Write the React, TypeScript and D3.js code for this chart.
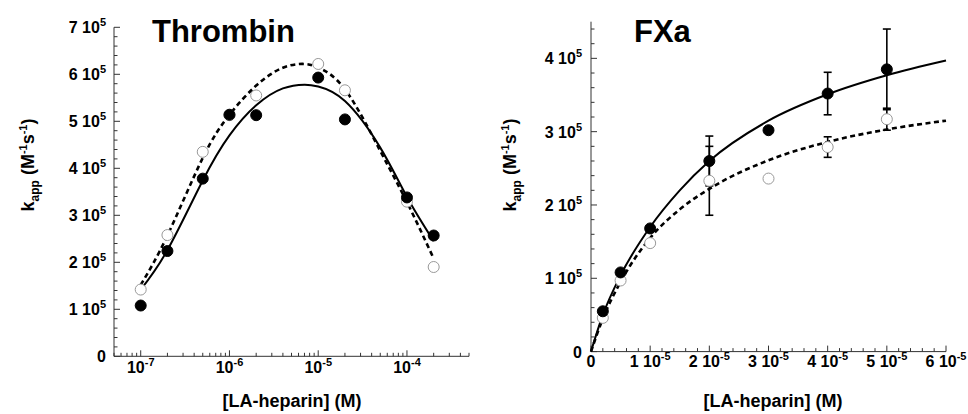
import React from 'react';
import * as d3 from 'd3';

// Thrombin panel (log x)
const thrombinX = [1e-7, 2e-7, 5e-7, 1e-6, 2e-6, 1e-5, 2e-5, 1e-4, 2e-4];
const thrombinFilled = [1.08e5, 2.24e5, 3.78e5, 5.14e5, 5.13e5, 5.93e5, 5.04e5, 3.38e5, 2.57e5];
const thrombinOpen = [1.42e5, 2.58e5, 4.35e5, 5.13e5, 5.55e5, 6.22e5, 5.66e5, 3.29e5, 1.9e5];
const thrombinFitX = [1e-7, 2e-7, 5e-7, 1e-6, 2e-6, 4e-6, 7e-6, 1e-5, 2e-5, 5e-5, 1e-4, 2e-4];
const thrombinFitSolid = [1.42e5, 2.26e5, 3.74e5, 4.7e5, 5.34e5, 5.7e5, 5.78e5, 5.74e5, 5.43e5, 4.44e5, 3.39e5, 2.45e5];
const thrombinFitDashed = [1.52e5, 2.57e5, 4.22e5, 5.14e5, 5.76e5, 6.14e5, 6.22e5, 6.14e5, 5.68e5, 4.37e5, 3.28e5, 2.08e5];
const thrombinXTicks = [1e-7, 1e-6, 1e-5, 1e-4];
const thrombinYTicks = [0, 1e5, 2e5, 3e5, 4e5, 5e5, 6e5, 7e5];

// FXa panel (linear x)
const fxaX = [2e-6, 5e-6, 1e-5, 2e-5, 3e-5, 4e-5, 5e-5];
const fxaFilled = [0.55e5, 1.08e5, 1.68e5, 2.6e5, 3.02e5, 3.52e5, 3.85e5];
const fxaOpen = [0.46e5, 0.97e5, 1.48e5, 2.33e5, 2.36e5, 2.79e5, 3.17e5];
const fxaFilledErr = [0, 0, 0, 0.34e5, 0, 0.29e5, 0.55e5];
const fxaOpenErr = [0, 0, 0, 0.47e5, 0, 0.14e5, 0.15e5];
const fxaFitX = [0, 2e-6, 5e-6, 1e-5, 1.5e-5, 2e-5, 3e-5, 4e-5, 5e-5, 6e-5];
const fxaFitSolid = [0, 0.5e5, 1.04e5, 1.7e5, 2.2e5, 2.6e5, 3.15e5, 3.51e5, 3.77e5, 3.97e5];
const fxaFitDashed = [0, 0.45e5, 0.95e5, 1.55e5, 1.94e5, 2.22e5, 2.61e5, 2.86e5, 3.03e5, 3.15e5];
const fxaXTicks = [0, 1e-5, 2e-5, 3e-5, 4e-5, 5e-5, 6e-5];
const fxaYTicks = [0, 1e5, 2e5, 3e5, 4e5];

const FONT = '"Liberation Sans", Arial, Helvetica, sans-serif';
const AXIS = '#333';

// "7 10^5" style label
const SciLabel = ({ mant, exp, x, y, anchor }) => {
  if (mant === '0') {
    return <text x={x} y={y} textAnchor={anchor} fontSize={16} fontWeight="bold">0</text>;
  }
  return (
    <text x={x} y={y} textAnchor={anchor} fontSize={16} fontWeight="bold">
      {mant ? `${mant} 10` : '10'}
      <tspan fontSize={11} dy={-7}>{exp}</tspan>
    </text>
  );
};

const YTitle = ({ x, y }) => (
  <text transform={`translate(${x},${y}) rotate(-90)`} textAnchor="middle" fontSize={18} fontWeight="bold">
    k<tspan fontSize={12} dy={5}>app</tspan>
    <tspan dy={-5}> (M</tspan>
    <tspan fontSize={11} dy={-7}>-1</tspan>
    <tspan dy={7}>s</tspan>
    <tspan fontSize={11} dy={-7}>-1</tspan>
    <tspan dy={7}>)</tspan>
  </text>
);

const Markers = ({ xs, ys, xScale, yScale, filled }) => (
  <g>
    {xs.map((v, i) => (
      <circle key={i} cx={xScale(v)} cy={yScale(ys[i])} r={5.5}
        fill={filled ? '#000' : '#fff'} stroke={filled ? '#000' : '#999'} strokeWidth={1} />
    ))}
  </g>
);

const ErrorBars = ({ xs, ys, errs, xScale, yScale }) => (
  <g stroke="#000" strokeWidth={1.6}>
    {xs.map((v, i) => {
      if (!errs[i]) return null;
      const cx = xScale(v);
      const top = yScale(ys[i] + errs[i]);
      const bot = yScale(ys[i] - errs[i]);
      return (
        <g key={i}>
          <line x1={cx} x2={cx} y1={top} y2={bot} />
          <line x1={cx - 4} x2={cx + 4} y1={top} y2={top} />
          <line x1={cx - 4} x2={cx + 4} y1={bot} y2={bot} />
        </g>
      );
    })}
  </g>
);

const Thrombin = () => {
  const x = d3.scaleLog().domain([5e-8, 5e-4]).range([114, 469]);
  const y = d3.scaleLinear().domain([0, 7e5]).range([356.3, 27.3]);
  const isMajor = t => Math.abs(Math.log10(t) - Math.round(Math.log10(t))) < 1e-6;
  const line = (vals) => d3.line().x((d, i) => x(thrombinFitX[i])).y(d => y(d)).curve(d3.curveNatural)(vals);
  const yMinor = d3.range(0, 7e5 + 1, 2e4);
  return (
    <g>
      <line x1={114} x2={469} y1={y(0)} y2={y(0)} stroke={AXIS} />
      <line x1={114} x2={114} y1={y(0)} y2={y(7e5)} stroke={AXIS} />
      {x.ticks().map((t, i) => (
        <line key={i} x1={x(t)} x2={x(t)} y1={y(0)} y2={y(0) - (isMajor(t) ? 6 : 3.5)} stroke={AXIS} />
      ))}
      {yMinor.map((t, i) => {
        const major = Math.abs(t % 1e5) < 1;
        return <line key={i} x1={114} x2={114 + (major ? 6 : 3.5)} y1={y(t)} y2={y(t)} stroke={AXIS} />;
      })}
      {thrombinXTicks.map((t, i) => (
        <SciLabel key={i} mant="" exp={`${Math.round(Math.log10(t))}`} x={x(t)} y={y(0) + 17} anchor="middle" />
      ))}
      {thrombinYTicks.map((t, i) => (
        <SciLabel key={i} mant={t === 0 ? '0' : `${t / 1e5}`} exp="5" x={106} y={y(t) + 6} anchor="end" />
      ))}
      <path d={line(thrombinFitDashed)} fill="none" stroke="#000" strokeWidth={2.6} strokeDasharray="5,3.5" />
      <path d={line(thrombinFitSolid)} fill="none" stroke="#000" strokeWidth={2} />
      <Markers xs={thrombinX} ys={thrombinOpen} xScale={x} yScale={y} filled={false} />
      <Markers xs={thrombinX} ys={thrombinFilled} xScale={x} yScale={y} filled={true} />
      <text x={152} y={42} fontSize={31} fontWeight="bold">Thrombin</text>
      <text x={292} y={407} textAnchor="middle" fontSize={18} fontWeight="bold">[LA-heparin] (M)</text>
      <YTitle x={34} y={165} />
    </g>
  );
};

const FXa = () => {
  const x = d3.scaleLinear().domain([0, 6e-5]).range([591, 946]);
  const y = d3.scaleLinear().domain([0, 4.5e5]).range([351.6, 21.7]);
  const line = (vals) => d3.line().x((d, i) => x(fxaFitX[i])).y(d => y(d)).curve(d3.curveMonotoneX)(vals);
  const xMinor = d3.range(0, 6e-5 + 1e-9, 2e-6);
  const yMinor = d3.range(0, 4.5e5, 2e4);
  return (
    <g>
      <line x1={591} x2={946} y1={y(0)} y2={y(0)} stroke={AXIS} />
      <line x1={591} x2={591} y1={y(0)} y2={y(4.5e5)} stroke={AXIS} />
      {xMinor.map((t, i) => {
        const major = i % 5 === 0;
        return <line key={i} x1={x(t)} x2={x(t)} y1={y(0)} y2={y(0) - (major ? 6 : 3.5)} stroke={AXIS} />;
      })}
      {yMinor.map((t, i) => {
        const major = i % 5 === 0;
        return <line key={i} x1={591} x2={591 + (major ? 6 : 3.5)} y1={y(t)} y2={y(t)} stroke={AXIS} />;
      })}
      {fxaXTicks.map((t, i) => (
        <SciLabel key={i} mant={t === 0 ? '0' : `${Math.round(t / 1e-5)}`} exp="-5" x={x(t)} y={y(0) + 15} anchor="middle" />
      ))}
      {fxaYTicks.map((t, i) => (
        <SciLabel key={i} mant={t === 0 ? '0' : `${t / 1e5}`} exp="5" x={582} y={y(t) + 6} anchor="end" />
      ))}
      <path d={line(fxaFitDashed)} fill="none" stroke="#000" strokeWidth={2.6} strokeDasharray="5,3.5" />
      <path d={line(fxaFitSolid)} fill="none" stroke="#000" strokeWidth={2} />
      <ErrorBars xs={fxaX} ys={fxaOpen} errs={fxaOpenErr} xScale={x} yScale={y} />
      <ErrorBars xs={fxaX} ys={fxaFilled} errs={fxaFilledErr} xScale={x} yScale={y} />
      <Markers xs={fxaX} ys={fxaOpen} xScale={x} yScale={y} filled={false} />
      <Markers xs={fxaX} ys={fxaFilled} xScale={x} yScale={y} filled={true} />
      <text x={634} y={42} fontSize={31} fontWeight="bold">FXa</text>
      <text x={773} y={407} textAnchor="middle" fontSize={18} fontWeight="bold">[LA-heparin] (M)</text>
      <YTitle x={516} y={165} />
    </g>
  );
};

export default function App() {
  return (
    <svg width={968} height={414} style={{ position: 'absolute', left: 0, top: 0, background: '#fff' }}
      fontFamily={FONT} fill="#000">
      <rect width={968} height={414} fill="#fff" />
      <Thrombin />
      <FXa />
    </svg>
  );
}
